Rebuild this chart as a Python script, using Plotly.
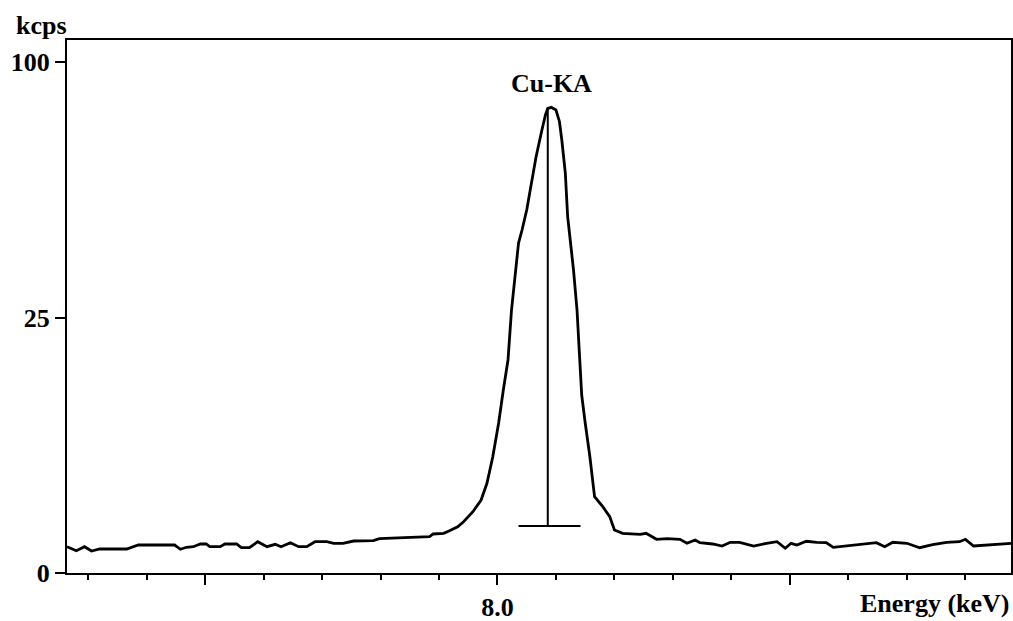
import numpy as np
import plotly.graph_objects as go

# ---- data (energy in keV, intensity in kcps) ----
energy_kev = [
    7.632, 7.640, 7.647, 7.653, 7.660, 7.683, 7.693, 7.724, 7.729, 7.734,
    7.740, 7.746, 7.751, 7.754, 7.763, 7.767, 7.777, 7.781, 7.788, 7.795,
    7.803, 7.810, 7.815, 7.823, 7.830, 7.837, 7.844, 7.854, 7.860, 7.868,
    7.877, 7.894, 7.899, 7.922, 7.942, 7.945, 7.954, 7.959, 7.966, 7.971,
    7.979, 7.986, 7.991, 7.996, 8.001, 8.005, 8.009, 8.012, 8.015, 8.018,
    8.021, 8.025, 8.028, 8.033, 8.038, 8.041, 8.043, 8.046, 8.050, 8.053,
    8.055, 8.058, 8.060, 8.062, 8.065, 8.068, 8.070, 8.072, 8.075, 8.079,
    8.083, 8.090, 8.096, 8.100, 8.107, 8.116, 8.122, 8.127, 8.132, 8.136,
    8.145, 8.156, 8.162, 8.169, 8.173, 8.184, 8.192, 8.199, 8.207, 8.219,
    8.230, 8.239, 8.246, 8.251, 8.256, 8.264, 8.273, 8.281, 8.287, 8.298,
    8.315, 8.324, 8.331, 8.338, 8.350, 8.361, 8.372, 8.384, 8.395, 8.400,
    8.407, 8.418, 8.429, 8.439,
]
intensity_kcps = [
    0.265, 0.190, 0.265, 0.185, 0.221, 0.221, 0.300, 0.300, 0.215, 0.253,
    0.265, 0.322, 0.322, 0.265, 0.265, 0.322, 0.322, 0.245, 0.245, 0.375,
    0.265, 0.315, 0.265, 0.352, 0.265, 0.265, 0.375, 0.375, 0.338, 0.338,
    0.392, 0.400, 0.451, 0.477, 0.505, 0.583, 0.604, 0.685, 0.821, 1.008,
    1.439, 2.041, 3.081, 5.180, 8.617, 12.83, 17.38, 26.49, 33.62, 41.70,
    45.05, 50.46, 56.18, 66.37, 75.16, 80.33, 82.70, 83.06, 82.10, 78.00,
    71.80, 61.27, 48.62, 43.31, 35.16, 26.49, 17.38, 12.13, 8.617, 5.180,
    2.230, 1.683, 1.214, 0.708, 0.604, 0.574, 0.574, 0.604, 0.505, 0.435,
    0.451, 0.435, 0.338, 0.417, 0.352, 0.322, 0.279, 0.361, 0.361, 0.279,
    0.338, 0.375, 0.234, 0.338, 0.300, 0.385, 0.361, 0.352, 0.253, 0.279,
    0.338, 0.352, 0.265, 0.361, 0.338, 0.245, 0.307, 0.361, 0.375, 0.435,
    0.279, 0.300, 0.315, 0.338,
]

# peak marker (Cu-KA line)
marker_label = "Cu-KA"
marker_energy = 8.043
marker_top_kcps = 82.7
marker_base_kcps = 0.85
marker_bar_left = 8.018
marker_bar_right = 8.071

y_tick_values = [0, 25, 100]
y_tick_labels = ["0", "25", "100"]
x_major_ticks = [7.75, 8.0, 8.25]
x_major_labels = ["", "8.0", ""]

x_range = [7.632, 8.439]
y_max_kcps = 108.8

# square-root intensity scale
sq = np.sqrt

font_family = "Liberation Serif"
fsize = 26

fig = go.Figure()
fig.add_trace(go.Scatter(
    x=energy_kev, y=sq(np.array(intensity_kcps)),
    mode="lines", line=dict(color="black", width=2.8), hoverinfo="skip",
))
# marker vertical line
fig.add_trace(go.Scatter(
    x=[marker_energy, marker_energy],
    y=sq(np.array([marker_base_kcps, marker_top_kcps])),
    mode="lines", line=dict(color="black", width=2), hoverinfo="skip",
))
# marker base bar
fig.add_trace(go.Scatter(
    x=[marker_bar_left, marker_bar_right],
    y=sq(np.array([marker_base_kcps, marker_base_kcps])),
    mode="lines", line=dict(color="black", width=2), hoverinfo="skip",
))

tfont = dict(family=font_family, size=fsize, color="black", weight="bold")

fig.update_layout(
    width=1013, height=621,
    margin=dict(l=67, r=2, t=40, b=48, autoexpand=False),
    paper_bgcolor="white", plot_bgcolor="white",
    showlegend=False,
    xaxis=dict(
        range=x_range, showgrid=False, zeroline=False,
        showline=True, linecolor="black", linewidth=2, mirror=True,
        tickmode="array", tickvals=x_major_ticks, ticktext=x_major_labels,
        ticks="outside", ticklen=10, tickwidth=2, tickcolor="black",
        tickfont=tfont,
        minor=dict(tickmode="linear", tick0=7.75, dtick=0.05, ticks="outside",
                   ticklen=5, tickwidth=2, tickcolor="black", showgrid=False),
    ),
    yaxis=dict(
        range=[0, float(sq(y_max_kcps))], showgrid=False, zeroline=False,
        showline=True, linecolor="black", linewidth=2, mirror=True,
        tickmode="array", tickvals=list(sq(np.array(y_tick_values, dtype=float))),
        ticktext=y_tick_labels,
        ticks="outside", ticklen=10, tickwidth=2, tickcolor="black",
        tickfont=tfont,
    ),
    annotations=[
        dict(text="kcps", xref="paper", yref="paper", x=-0.0265, y=1.028,
             xanchor="center", yanchor="middle", showarrow=False, font=tfont),
        dict(text="Energy (keV)", xref="paper", yref="paper", x=1.0, y=-0.0563,
             xanchor="right", yanchor="middle", showarrow=False, font=tfont),
        dict(text=marker_label, xref="x", yref="paper", x=8.0465, y=0.919,
             xanchor="center", yanchor="middle", showarrow=False, font=tfont),
    ],
)

fig.write_html("out.html", config={"displayModeBar": False},
               post_script="document.body.style.margin='0';document.body.style.overflow='hidden';")
